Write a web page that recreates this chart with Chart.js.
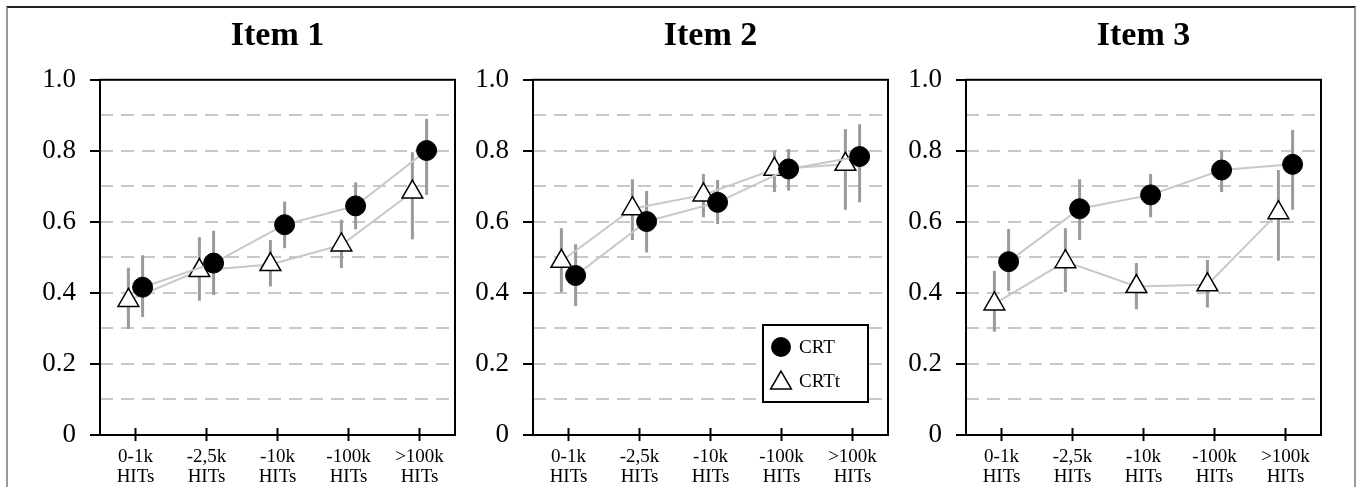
<!DOCTYPE html>
<html>
<head>
<meta charset="utf-8">
<script src="https://cdn.jsdelivr.net/npm/chart.js@4.4.0/dist/chart.umd.min.js"></script>
<style>
  body { margin: 0; background: #fff; width: 1357px; height: 487px; overflow: hidden; position: relative; }
  #frame { position: absolute; left: 6px; top: 6px; width: 1346px; height: 490px;
           border-top: 2px solid #222; border-left: 2px solid #999; border-right: 2px solid #999; }
  .panel { position: absolute; top: 0; }
</style>
</head>
<body>
<div id="frame"></div>
<div class="panel" style="left:0px"><canvas id="item1" width="462" height="487"></canvas></div>
<div class="panel" style="left:433px"><canvas id="item2" width="462" height="487"></canvas></div>
<div class="panel" style="left:866px"><canvas id="item3" width="462" height="487"></canvas></div>
<script>
// categories on the x axis
const categories = ['0-1k', '-2,5k', '-10k', '-100k', '>100k'];
const unitLabel = 'HITs';
const titles = ['Item 1', 'Item 2', 'Item 3'];
const yTicks = [0, 0.2, 0.4, 0.6, 0.8, 1.0];

// Item 1
const crt1 = [0.416, 0.484, 0.592, 0.645, 0.801];
const crt1Lo = [0.332, 0.394, 0.526, 0.579, 0.676];
const crt1Hi = [0.506, 0.575, 0.657, 0.711, 0.890];
const crtt1 = [0.379, 0.463, 0.480, 0.535, 0.684];
const crtt1Lo = [0.299, 0.378, 0.418, 0.470, 0.551];
const crtt1Hi = [0.471, 0.557, 0.549, 0.606, 0.796];

// Item 2
const crt2 = [0.449, 0.601, 0.655, 0.749, 0.784];
const crt2Lo = [0.363, 0.514, 0.594, 0.688, 0.655];
const crt2Hi = [0.537, 0.687, 0.718, 0.805, 0.875];
const crtt2 = [0.489, 0.637, 0.676, 0.748, 0.762];
const crtt2Lo = [0.402, 0.549, 0.613, 0.684, 0.634];
const crtt2Hi = [0.582, 0.720, 0.735, 0.801, 0.861];

// Item 3
const crt3 = [0.488, 0.637, 0.676, 0.746, 0.762];
const crt3Lo = [0.406, 0.549, 0.613, 0.684, 0.634];
const crt3Hi = [0.580, 0.720, 0.735, 0.801, 0.859];
const crtt3 = [0.369, 0.488, 0.418, 0.423, 0.626];
const crtt3Lo = [0.291, 0.402, 0.354, 0.359, 0.491];
const crtt3Hi = [0.462, 0.582, 0.484, 0.493, 0.746];

const SERIF = '"Liberation Serif", "DejaVu Serif", serif';
const DODGE = 0.1; // horizontal shift of the two series around each category

// error bars, box frame, x tick marks and legend
const decorPlugin = {
    id: 'decor',
    beforeDatasetsDraw(chart) {
        const ctx = chart.ctx;
        const y = chart.scales.y;
        ctx.save();
        ctx.strokeStyle = '#9a9a9a';
        ctx.lineWidth = 3;
        chart.data.datasets.forEach((ds, di) => {
            const meta = chart.getDatasetMeta(di);
            ds.errLo.forEach((lo, i) => {
                const px = meta.data[i].x;
                ctx.beginPath();
                ctx.moveTo(px, y.getPixelForValue(lo));
                ctx.lineTo(px, y.getPixelForValue(ds.errHi[i]));
                ctx.stroke();
            });
        });
        ctx.restore();
    },
    afterDatasetsDraw(chart, args, opts) {
        const ctx = chart.ctx;
        const a = chart.chartArea;
        const x = chart.scales.x;
        ctx.save();
        ctx.strokeStyle = '#000';
        ctx.lineWidth = 2;
        ctx.strokeRect(a.left, a.top, a.right - a.left, a.bottom - a.top);
        // small tick marks crossing into the plot
        x.ticks.forEach(t => {
            const px = x.getPixelForValue(t.value);
            ctx.beginPath();
            ctx.moveTo(px, a.bottom);
            ctx.lineTo(px, a.bottom - 7);
            ctx.stroke();
        });
        if (opts.show) {
            const w = 105, h = 77;
            const bx = a.right - 20 - w, by = a.bottom - 33 - h;
            ctx.fillStyle = '#fff';
            ctx.fillRect(bx, by, w, h);
            ctx.strokeRect(bx, by, w, h);
            const mx = bx + 18;
            // circle
            ctx.beginPath();
            ctx.arc(mx, by + 22, 10, 0, Math.PI * 2);
            ctx.fillStyle = '#000';
            ctx.fill();
            // triangle
            const r = 12, cy = by + 58;
            ctx.beginPath();
            ctx.moveTo(mx, cy - r);
            ctx.lineTo(mx + r * Math.sin(Math.PI * 2 / 3), cy + r / 2);
            ctx.lineTo(mx - r * Math.sin(Math.PI * 2 / 3), cy + r / 2);
            ctx.closePath();
            ctx.fillStyle = '#fff';
            ctx.fill();
            ctx.lineWidth = 1.5;
            ctx.stroke();
            ctx.fillStyle = '#000';
            ctx.font = '19px ' + SERIF;
            ctx.textBaseline = 'middle';
            ctx.fillText(chart.data.datasets[0].label, bx + 36, by + 23);
            ctx.fillText(chart.data.datasets[1].label, bx + 36, by + 57);
        }
        ctx.restore();
    }
};

function makeChart(id, title, crt, crtLo, crtHi, crtt, crttLo, crttHi, showLegend) {
    const ctx = document.getElementById(id).getContext('2d');
    return new Chart(ctx, {
        type: 'line',
        data: {
            datasets: [{
                label: 'CRT',
                data: crt.map((v, i) => ({ x: i + DODGE, y: v })),
                errLo: crtLo,
                errHi: crtHi,
                borderColor: '#c8c8c8',
                borderWidth: 2,
                pointStyle: 'circle',
                pointRadius: 10,
                pointBackgroundColor: '#000',
                pointBorderColor: '#000',
                pointBorderWidth: 1
            }, {
                label: 'CRTt',
                data: crtt.map((v, i) => ({ x: i - DODGE, y: v })),
                errLo: crttLo,
                errHi: crttHi,
                borderColor: '#c8c8c8',
                borderWidth: 2,
                pointStyle: 'triangle',
                pointRadius: 12,
                pointBackgroundColor: '#fff',
                pointBorderColor: '#000',
                pointBorderWidth: 1.5
            }]
        },
        options: {
            responsive: false,
            animation: false,
            layout: { autoPadding: false, padding: { left: 0, right: 7, top: 0, bottom: 0 } },
            plugins: {
                legend: { display: false },
                tooltip: { enabled: false },
                title: {
                    display: true,
                    text: title,
                    fullSize: false,
                    color: '#000',
                    font: { family: SERIF, size: 34, weight: 'bold' },
                    padding: { top: 16, bottom: 23 }
                },
                decor: { show: showLegend }
            },
            scales: {
                x: {
                    type: 'linear',
                    min: -0.5,
                    max: 4.5,
                    afterBuildTicks: scale => {
                        scale.ticks = categories.map((c, i) => ({ value: i }));
                    },
                    afterFit: scale => {
                        scale.height = 52;
                        scale.paddingLeft = 0;
                        scale.paddingRight = 0;
                    },
                    ticks: {
                        color: '#000',
                        padding: 6,
                        maxRotation: 0,
                        font: { family: SERIF, size: 19, lineHeight: 1.05 },
                        callback: value => [categories[value], unitLabel]
                    },
                    grid: {
                        drawOnChartArea: false,
                        tickLength: 6,
                        tickColor: '#000',
                        tickWidth: 2
                    },
                    border: { display: false }
                },
                y: {
                    min: 0,
                    max: 1,
                    afterFit: scale => { scale.width = 100; },
                    ticks: {
                        stepSize: 0.1,
                        color: '#000',
                        padding: 14,
                        font: { family: SERIF, size: 27 },
                        callback: value => {
                            const v = Math.round(value * 10) / 10;
                            if (!yTicks.some(t => Math.abs(t - v) < 1e-6)) return '';
                            return v === 0 ? '0' : v.toFixed(1);
                        }
                    },
                    grid: {
                        tickLength: 10,
                        tickWidth: 2,
                        lineWidth: 2,
                        color: c => (c.tick && c.tick.value > 0.05 && c.tick.value < 0.95) ? '#c8c8c8' : 'rgba(0,0,0,0)',
                        tickColor: c => (c.tick && Math.round(c.tick.value * 10) % 2 === 0) ? '#000' : 'rgba(0,0,0,0)'
                    },
                    border: { display: false, dash: [13, 8] }
                }
            }
        },
        plugins: [decorPlugin]
    });
}

makeChart('item1', titles[0], crt1, crt1Lo, crt1Hi, crtt1, crtt1Lo, crtt1Hi, false);
makeChart('item2', titles[1], crt2, crt2Lo, crt2Hi, crtt2, crtt2Lo, crtt2Hi, true);
makeChart('item3', titles[2], crt3, crt3Lo, crt3Hi, crtt3, crtt3Lo, crtt3Hi, false);
</script>
</body>
</html>
